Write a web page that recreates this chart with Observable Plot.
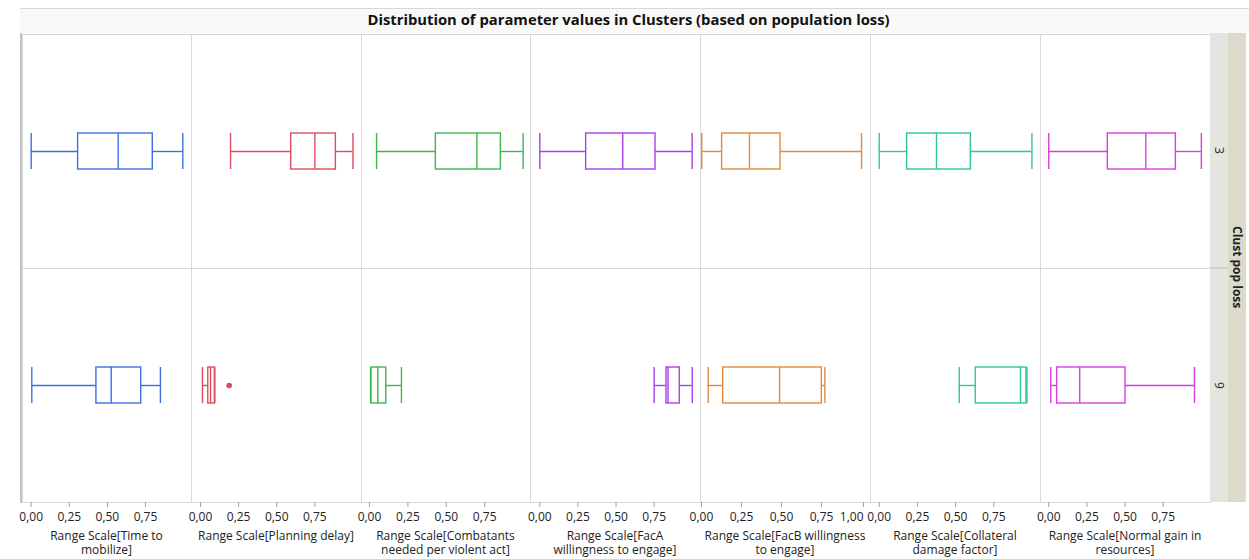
<!DOCTYPE html>
<html>
<head>
<meta charset="utf-8">
<script src="https://cdn.jsdelivr.net/npm/d3@7"></script>
<script src="https://cdn.jsdelivr.net/npm/@observablehq/plot@0.6"></script>
<style>
  body { margin: 0; background: #ffffff; font-family: "Open Sans", sans-serif; }
  #chart { position: relative; width: 1249px; height: 559px; overflow: hidden; background: #ffffff; }
  .titlebar { position: absolute; left: 20px; top: 8px; width: 1229px; height: 24px; background: #f9f9f9; border-top: 1px solid #d8d8d8; }
  .title { position: absolute; top: 9px; left: 0; width: 1257px; text-align: center; font-weight: bold; font-size: 14.8px; color: #111; white-space: nowrap; }
  .leftline { position: absolute; left: 20px; top: 33px; width: 2px; height: 470px; background: #c4c4c4; }
  .panel { position: absolute; top: 33px; }
  .axlabel { position: absolute; top: 529px; text-align: center; font-size: 12px; line-height: 14px; color: #222; white-space: pre; }
  .strip1 { position: absolute; left: 1210px; top: 33px; width: 18px; height: 469px; background: #e5e5df; }
  .strip2 { position: absolute; left: 1228px; top: 33px; width: 18px; height: 469px; background: #dcdbcb; }
  .stripdiv { position: absolute; left: 1210px; top: 267px; width: 18px; height: 2px; background: #d2d2cc; }
  .vlab { position: absolute; writing-mode: vertical-rl; font-size: 12px; color: #222; display: flex; align-items: center; justify-content: center; }
</style>
</head>
<body>
<div id="chart"></div>
<script>
// ---------- data ----------
const parameters = [
  "Range Scale[Time to mobilize]",
  "Range Scale[Planning delay]",
  "Range Scale[Combatants needed per violent act]",
  "Range Scale[FacA willingness to engage]",
  "Range Scale[FacB willingness to engage]",
  "Range Scale[Collateral damage factor]",
  "Range Scale[Normal gain in resources]"
];
const axisTitles = [
  "Range Scale[Time to\nmobilize]",
  "Range Scale[Planning delay]",
  "Range Scale[Combatants\nneeded per violent act]",
  "Range Scale[FacA\nwillingness to engage]",
  "Range Scale[FacB willingness\nto engage]",
  "Range Scale[Collateral\ndamage factor]",
  "Range Scale[Normal gain in\nresources]"
];
const clusters = ["3", "9"];
const groupTitle = "Clust pop loss";
const chartTitle = "Distribution of parameter values in Clusters (based on population loss)";

// cluster 3: lower whisker, Q1, median, Q3, upper whisker (one per parameter)
const c3Low    = [0.000, 0.197, 0.046, 0.000, 0.002, 0.000, 0.000];
const c3Q1     = [0.308, 0.595, 0.432, 0.304, 0.129, 0.183, 0.387];
const c3Median = [0.571, 0.750, 0.699, 0.544, 0.300, 0.375, 0.636];
const c3Q3     = [0.798, 0.888, 0.855, 0.759, 0.494, 0.600, 0.833];
const c3High   = [0.995, 1.000, 1.000, 0.999, 1.000, 1.000, 1.000];

// cluster 9
const c9Low    = [0.004, 0.013, 0.007, 0.750, 0.042, 0.524, 0.013];
const c9Q1     = [0.428, 0.051, 0.013, 0.831, 0.136, 0.632, 0.055];
const c9Median = [0.525, 0.066, 0.054, 0.841, 0.488, 0.925, 0.203];
const c9Q3     = [0.722, 0.094, 0.109, 0.918, 0.752, 0.964, 0.503];
const c9High   = [0.848, 0.094, 0.208, 1.000, 0.771, 0.967, 0.955];

// outliers: parameter index, cluster, value
const outlierParam   = [1];
const outlierCluster = ["9"];
const outlierValue   = [0.188];

const tickValues = [0, 0.25, 0.5, 0.75];
const tickEnd = [1];          // extra end tick shown only on the FacB axis
const tickEndParam = 4;

// ---------- styling / layout ----------
const colors = ["#3f6fdf", "#de4b5e", "#3cb84b", "#a941e8", "#e08a3c", "#2fc596", "#d63fe0"];
const panelLeft  = [22, 191, 361, 530, 700, 870, 1040];
const panelWidth = [169, 170, 169, 170, 170, 170, 170];
const xDomains = [
  [-0.057, 1.052], [-0.059, 1.056], [-0.052, 1.048], [-0.061, 1.054],
  [-0.006, 1.056], [-0.057, 1.056], [-0.054, 1.060]
];
const frameHeight = 469;

const fmt = d => d3.format(".2f")(d).replace(".", ",");
const chart = document.getElementById("chart");

function addDiv(cls, text, styleObj) {
  const d = document.createElement("div");
  d.className = cls;
  if (text != null) d.textContent = text;
  if (styleObj) Object.assign(d.style, styleObj);
  chart.appendChild(d);
  return d;
}

addDiv("titlebar");
addDiv("title", chartTitle);

parameters.forEach((p, i) => {
  const rows = [
    {cluster: clusters[0], band: "box", lo: c3Low[i], q1: c3Q1[i], med: c3Median[i], q3: c3Q3[i], hi: c3High[i]},
    {cluster: clusters[1], band: "box", lo: c9Low[i], q1: c9Q1[i], med: c9Median[i], q3: c9Q3[i], hi: c9High[i]}
  ];
  const outs = outlierParam
    .map((pi, k) => ({pi, cluster: outlierCluster[k], band: "box", value: outlierValue[k]}))
    .filter(o => o.pi === i);
  const color = colors[i];
  const sw = 1.4;
  const axisOpts = {tickFormat: fmt, tickSize: 5, tickPadding: 5, stroke: "#a0a0a0", fill: "#222", label: null, fontSize: 12};
  const marks = [
    Plot.frame({stroke: "#d9d9d9"}),
    Plot.axisX({...axisOpts, ticks: tickValues}),
    Plot.ruleY(rows, {fy: "cluster", y: "band", x1: "lo", x2: "q1", stroke: color, strokeWidth: sw}),
    Plot.ruleY(rows, {fy: "cluster", y: "band", x1: "q3", x2: "hi", stroke: color, strokeWidth: sw}),
    Plot.tickX(rows, {fy: "cluster", y: "band", x: "lo", stroke: color, strokeWidth: sw}),
    Plot.tickX(rows, {fy: "cluster", y: "band", x: "hi", stroke: color, strokeWidth: sw}),
    Plot.barX(rows, {fy: "cluster", y: "band", x1: "q1", x2: "q3", fill: "white", stroke: color, strokeWidth: sw}),
    Plot.tickX(rows, {fy: "cluster", y: "band", x: "med", stroke: color, strokeWidth: sw}),
    Plot.dot(outs, {fy: "cluster", y: "band", x: "value", fill: color, stroke: "none", r: 2.8})
  ];
  if (i === tickEndParam) {
    marks.push(Plot.axisX({...axisOpts, ticks: tickEnd, textAnchor: "end", dx: 2}));
  }
  const svg = Plot.plot({
    width: panelWidth[i],
    height: frameHeight + 28,
    marginTop: 0, marginRight: 0, marginBottom: 28, marginLeft: 0,
    style: {overflow: "visible", background: "transparent", fontFamily: "'Open Sans', sans-serif", fontSize: "12px", color: "#222"},
    x: {domain: xDomains[i]},
    y: {domain: ["box"], padding: 0.734, axis: null},
    fy: {domain: clusters, padding: 0, axis: null},
    marks
  });
  const wrap = addDiv("panel", null, {left: panelLeft[i] + "px", width: panelWidth[i] + "px"});
  wrap.appendChild(svg);
  addDiv("axlabel", axisTitles[i], {left: panelLeft[i] + "px", width: panelWidth[i] + "px"});
});

addDiv("leftline");
addDiv("strip1");
addDiv("strip2");
addDiv("stripdiv");
addDiv("vlab", clusters[0], {left: "1210px", top: "33px", width: "18px", height: "234px"});
addDiv("vlab", clusters[1], {left: "1210px", top: "268px", width: "18px", height: "234px"});
addDiv("vlab", groupTitle, {left: "1228px", top: "33px", width: "18px", height: "469px", fontWeight: "bold"});
</script>
</body>
</html>
